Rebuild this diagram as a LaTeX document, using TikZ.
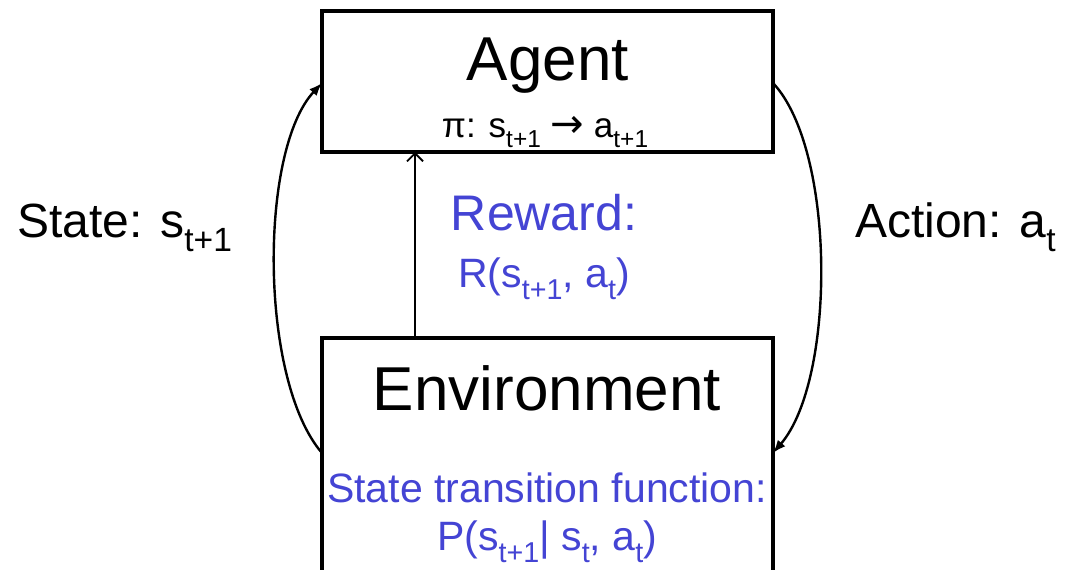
\documentclass[tikz,border=0pt]{standalone}
\usepackage{fontspec}
\usepackage{graphicx}
\setmainfont{Liberation Sans}
\newfontfamily\arrowfont{DejaVu Sans}
\usetikzlibrary{arrows.meta,calc}
\definecolor{rblue}{RGB}{68,68,212}
\newcommand{\mysub}[1]{\raisebox{-0.3em}{\scalebox{0.7}{#1}}}
\newcommand{\fsz}[1]{\fontsize{#1}{#1}\selectfont}
\begin{document}
\begin{tikzpicture}[x=1pt,y=-1pt,
  box/.style={draw=black, line width=3.2pt, fill=white, inner sep=0pt, outer sep=0pt},
  lbl/.style={inner sep=0pt, anchor=base},
  loop/.style={line width=2.4pt, -{Latex[length=13pt,width=10pt]}},
  midarrow/.style={line width=1.8pt, -{Straight Barb[length=8pt,width=16pt]}}
]
\useasboundingbox (0,0) rectangle (1072,570);
\fill[white] (0,0) rectangle (1072,570);
\node[box, minimum width=451pt, minimum height=141pt] (agent) at (547.5,81.5) {};
\begin{scope}
\clip (0,0) rectangle (1072,570);
\node[box, minimum width=451pt, minimum height=264pt] (env) at (547.5,470) {};
\end{scope}
% text
\node[lbl] (agentT) at (548,80) {\fsz{62}Agent};
\node[lbl] (policy) at (545,137) {\fsz{35}π: s\mysub{t+1} {\arrowfont\fsz{40}→} a\mysub{t+1}};
\node[lbl] (envT) at (547,410) {\fsz{62}Environment};
\node[lbl,text=rblue] (trans) at (547,502) {\fsz{41}State transition function:};
\node[lbl,text=rblue] (prob) at (547,550) {\fsz{41}P(s\mysub{t+1}| s\mysub{t}, a\mysub{t})};
\node[lbl,text=rblue] (reward) at (544,230) {\fsz{50}Reward:};
\node[lbl,text=rblue] (rfun) at (544,287) {\fsz{41}R(s\mysub{t+1}, a\mysub{t})};
\node[lbl,anchor=base west] (state) at (17,237) {\fsz{48}State: s\mysub{t+1}};
\node[lbl,anchor=base west] (action) at (855,237) {\fsz{48}Action: a\mysub{t}};
% connectors
\coordinate (ytop) at (0,83);
\coordinate (ybot) at (0,453);
\coordinate (mx) at (415,0);
\draw[loop] (env.west |- ybot) .. controls (259,380) and (259,150) .. (agent.west |- ytop);
\draw[loop] (agent.east |- ytop) .. controls (836,150) and (836,380) .. (env.east |- ybot);
\draw[midarrow] (env.north -| mx) -- (agent.south -| mx);
\end{tikzpicture}
\end{document}
